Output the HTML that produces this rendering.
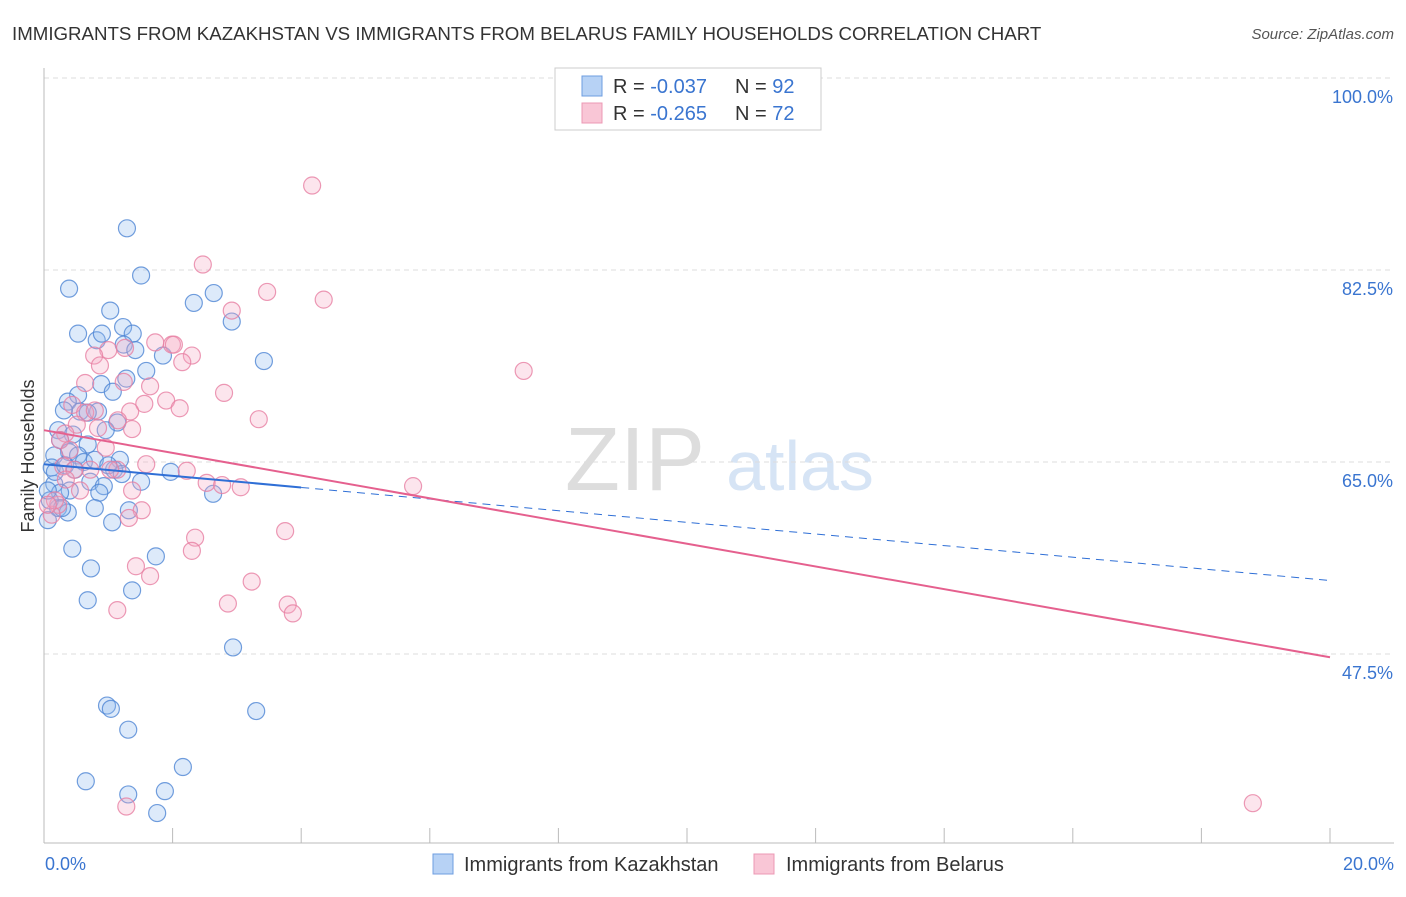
<!DOCTYPE html>
<html><head><meta charset="utf-8">
<style>
body{margin:0;background:#fff;font-family:"Liberation Sans",sans-serif;}
svg text{font-family:"Liberation Sans",sans-serif;}
</style></head>
<body>
<svg id="chart" width="1406" height="892" xmlns="http://www.w3.org/2000/svg">
<text x="12" y="40" font-size="18.7" fill="#333">IMMIGRANTS FROM KAZAKHSTAN VS IMMIGRANTS FROM BELARUS FAMILY HOUSEHOLDS CORRELATION CHART</text>
<text x="1394" y="39" font-size="15" fill="#555" text-anchor="end" font-style="italic">Source: ZipAtlas.com</text>
<text x="34" y="456" font-size="18" fill="#333" text-anchor="middle" transform="rotate(-90 34 456)">Family Households</text>
<g>
<text x="635" y="490" font-size="90" fill="#ddd" text-anchor="middle" font-family="Liberation Serif">ZIP</text>
<text x="800" y="490" font-size="70" fill="#d6e4f5" text-anchor="middle">atlas</text>
</g>
<g id="grid"></g>
<g id="marks"></g>
<g>
<rect x="555" y="68" width="266" height="62" fill="#fff" stroke="#ccc"/>
<rect x="582" y="76" width="20" height="20" fill="#b7d2f5" stroke="#6d9de0"/>
<rect x="582" y="103" width="20" height="20" fill="#f9c6d6" stroke="#ec98b4"/>
<text x="613" y="93" font-size="20" fill="#333">R = <tspan fill="#3a75d0">-0.037</tspan></text>
<text x="735" y="93" font-size="20" fill="#333">N = <tspan fill="#3a75d0">92</tspan></text>
<text x="613" y="120" font-size="20" fill="#333">R = <tspan fill="#3a75d0">-0.265</tspan></text>
<text x="735" y="120" font-size="20" fill="#333">N = <tspan fill="#3a75d0">72</tspan></text>
</g>
<g>
<rect x="433" y="854" width="20" height="20" fill="#b7d2f5" stroke="#6d9de0"/>
<text x="464" y="871" font-size="20" fill="#333">Immigrants from Kazakhstan</text>
<rect x="754" y="854" width="20" height="20" fill="#f9c6d6" stroke="#ec98b4"/>
<text x="786" y="871" font-size="20" fill="#333">Immigrants from Belarus</text>
</g>
</svg>
<script>
const yTicks=[47.5,65.0,82.5,100.0];
const xTickLabels=["0.0%","20.0%"];
const blueX=[1.29,1.51,0.39,2.33,2.64,2.92,1.03,0.53,0.82,0.90,1.23,1.38,1.24,1.42,1.85,1.59,3.42,1.28,0.89,1.07,0.53,0.37,0.56,0.84,0.31,0.68,1.14,0.96,0.22,0.45,0.25,0.68,0.39,0.53,0.16,0.62,0.12,1.18,1.97,0.72,0.16,0.40,0.25,1.09,1.51,0.93,1.21,0.86,0.79,0.22,0.37,1.06,1.32,2.63,0.44,1.74,0.73,1.37,0.68,2.94,0.98,1.04,1.31,3.30,0.65,1.31,1.88,1.76,2.16,0.06,0.09,0.28,0.17,0.33,0.48,0.79,1.00,0.06];
const blueY=[86.3,82.0,80.8,79.5,80.4,77.8,78.8,76.7,76.1,76.7,77.3,76.7,75.7,75.2,74.7,73.3,74.2,72.6,72.1,71.4,71.1,70.5,69.6,69.6,69.7,69.5,68.6,67.9,67.9,67.5,67.0,66.6,65.9,65.6,65.6,65.0,64.5,65.2,64.1,63.2,63.0,62.4,62.2,64.3,63.2,62.8,63.9,62.2,60.8,60.8,60.4,59.5,60.6,62.1,57.1,56.4,55.3,53.3,52.4,48.1,42.8,42.5,40.6,42.3,35.9,34.7,35.0,33.0,37.2,59.7,61.5,60.8,64.1,64.7,64.3,65.2,64.7,62.4];
const pinkX=[4.17,2.47,3.47,4.35,2.92,1.26,1.99,1.73,2.30,2.02,1.00,0.78,0.87,2.15,1.65,0.64,2.80,1.90,1.56,2.11,0.44,1.34,0.64,1.15,3.34,1.37,0.84,0.51,0.33,0.96,0.25,0.30,1.59,0.47,1.14,2.22,2.53,3.06,5.74,0.56,1.37,2.77,1.52,0.22,0.12,1.32,3.75,2.35,2.30,1.43,1.65,3.23,2.86,3.79,3.87,1.14,7.46,1.28,18.80,0.34,0.72,0.40,0.17,0.06,1.03,1.24,0.79];
const pinkY=[90.2,83.0,80.5,79.8,78.8,75.4,75.7,75.9,74.7,75.7,75.2,74.7,73.8,74.1,71.9,72.2,71.3,70.6,70.3,69.9,70.2,69.6,69.5,68.8,68.9,68.0,68.1,68.4,67.6,66.3,67.0,64.6,64.8,64.3,64.3,64.2,63.1,62.7,62.8,62.4,62.4,62.9,60.6,61.1,60.2,59.9,58.7,58.1,56.9,55.5,54.6,54.1,52.1,52.0,51.2,51.5,73.3,33.6,33.9,63.4,64.3,66.1,61.5,61.1,64.3,72.3,69.7];
const blueTrend=[64.8,54.2];
const pinkTrend=[67.9,47.2];
const blueSolidEnd=4.0;

const NS="http://www.w3.org/2000/svg";
const X0=44,X1=1330;
function sx(v){return X0+(v/20)*(X1-X0);}
function sy(v){return 78+(100-v)*(192/17.5);}
const grid=document.getElementById('grid'),marks=document.getElementById('marks');
function mk(tag,attrs,parent){const e=document.createElementNS(NS,tag);for(const k in attrs)e.setAttribute(k,attrs[k]);parent.appendChild(e);return e;}

yTicks.forEach(t=>{
  const l=mk('line',{x1:X0,x2:1394,y1:sy(t),y2:sy(t),stroke:'#ddd','stroke-dasharray':'5,4'},grid);
  
  
  const tx=mk('text',{x:1393,y:sy(t)+25,'font-size':18,fill:'#3a75d0','text-anchor':'end'},grid);
  tx.textContent=t.toFixed(1)+'%';
  
  
});
const ax=mk('line',{x1:X0,x2:X0,y1:68,y2:843,stroke:'#bbb'},grid);


const bx=mk('line',{x1:X0,x2:1394,y1:843,y2:843,stroke:'#bbb'},grid);


for(let i=0;i<=10;i++){
  const t=mk('line',{x1:sx(i*2),x2:sx(i*2),y1:828,y2:843,stroke:'#bbb'},grid);
  
  
}
[[0,'start',45],[20,'end',1394]].forEach((d,i)=>{
  const tx=mk('text',{x:d[2],y:870,'font-size':18,fill:'#3a75d0','text-anchor':d[1]},grid);
  tx.textContent=xTickLabels[i];
  
  
});

function dots(xs,ys,fill,stroke,name){
  xs.forEach((x,i)=>{
    const c=mk('circle',{cx:sx(x),cy:sy(ys[i]),r:8.5,fill:fill,'fill-opacity':0.3,stroke:stroke,'stroke-width':1.2,'stroke-opacity':0.8},marks);
    
    
  });
}
dots(blueX,blueY,'#8db8ee','#4f86d4','kazakhstan-point');
dots(pinkX,pinkY,'#f5a8c2','#e77fa3','belarus-point');

function trendAt(tr,x){return tr[0]+(tr[1]-tr[0])*x/20;}
const bl=mk('line',{x1:sx(0),y1:sy(trendAt(blueTrend,0)),x2:sx(blueSolidEnd),y2:sy(trendAt(blueTrend,blueSolidEnd)),stroke:'#2f6fd6','stroke-width':2},marks);


const bd=mk('line',{x1:sx(blueSolidEnd),y1:sy(trendAt(blueTrend,blueSolidEnd)),x2:sx(20),y2:sy(trendAt(blueTrend,20)),stroke:'#2f6fd6','stroke-width':1,'stroke-dasharray':'8,6'},marks);


const pl=mk('line',{x1:sx(0),y1:sy(trendAt(pinkTrend,0)),x2:sx(20),y2:sy(trendAt(pinkTrend,20)),stroke:'#e5608e','stroke-width':2},marks);


</script>
</body></html>
